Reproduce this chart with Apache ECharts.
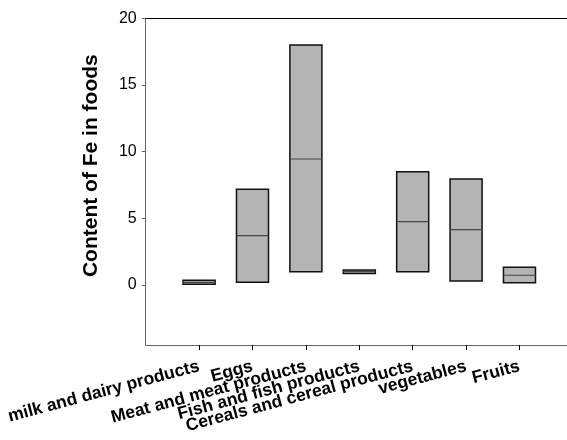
<!DOCTYPE html>
<html>
<head>
<meta charset="utf-8">
<script src="https://cdn.jsdelivr.net/npm/echarts@6/dist/echarts.min.js"></script>
<style>
  html, body { margin: 0; padding: 0; background: #ffffff; }
  #chart { width: 567px; height: 440px; }
</style>
</head>
<body>
<div id="chart"></div>
<script>
// Fe content ranges per food group: lowest, median and highest value
const categories = [
  'milk and dairy products',
  'Eggs',
  'Meat and meat products',
  'Fish and fish products',
  'Cereals and cereal products',
  'vegetables',
  'Fruits'
];
const lowValues    = [0.05, 0.2, 1.0, 0.87, 1.0, 0.3, 0.17];
const medianValues = [0.2, 3.7, 9.45, 1.0, 4.75, 4.15, 0.73];
const highValues   = [0.35, 7.18, 18.0, 1.12, 8.5, 7.95, 1.33];
const yTicks = [0, 5, 10, 15, 20];

const positions = categories.map((c, i) => i + 1);
const boxData = categories.map((c, i) => [i + 1, lowValues[i], medianValues[i], highValues[i]]);

const FONT = '"Liberation Sans", Arial, sans-serif';
const chart = echarts.init(document.getElementById('chart'), null, { renderer: 'canvas' });

chart.setOption({
  animation: false,
  backgroundColor: '#ffffff',
  grid: { left: 145.7, right: 0, top: 18.3, bottom: 95 },
  xAxis: [
    {
      type: 'value',
      min: 0,
      max: 7.89,
      position: 'bottom',
      splitLine: { show: false },
      axisLine: { show: true, onZero: false, lineStyle: { color: '#666666', width: 1 } },
      axisTick: {
        show: true, inside: false, length: 5,
        customValues: positions,
        lineStyle: { color: '#000000', width: 1 }
      },
      axisLabel: {
        show: true,
        customValues: positions,
        rotate: 15,
        margin: 21,
        fontFamily: FONT,
        fontWeight: 'bold',
        fontSize: 17.5,
        color: '#000000',
        formatter: v => categories[Math.round(v) - 1] || ''
      }
    },
    {
      type: 'value',
      min: 0,
      max: 7.89,
      position: 'top',
      splitLine: { show: false },
      axisLine: { show: true, onZero: false, lineStyle: { color: '#000000', width: 1 } },
      axisTick: { show: false },
      axisLabel: { show: false }
    }
  ],
  yAxis: {
    type: 'value',
    min: -4.5,
    max: 20,
    name: 'Content of Fe in foods',
    nameLocation: 'middle',
    nameGap: 44,
    nameTextStyle: {
      fontFamily: FONT, fontWeight: 'bold', fontSize: 21, color: '#000000',
      padding: [0, 0, 0, 32]
    },
    splitLine: { show: false },
    axisLine: { show: true, onZero: false, lineStyle: { color: '#666666', width: 1 } },
    axisTick: {
      show: true, inside: false, length: 4,
      customValues: yTicks,
      lineStyle: { color: '#666666', width: 1 }
    },
    axisLabel: {
      show: true,
      customValues: yTicks,
      margin: 9,
      fontFamily: FONT,
      fontSize: 16,
      color: '#000000'
    }
  },
  series: [{
    type: 'custom',
    xAxisIndex: 0,
    yAxisIndex: 0,
    data: boxData,
    encode: { x: 0, y: [1, 2, 3] },
    renderItem: function (params, api) {
      const x = api.value(0);
      const lo = api.coord([x, api.value(1)]);
      const md = api.coord([x, api.value(2)]);
      const hi = api.coord([x, api.value(3)]);
      const halfW = api.size([0.6, 0])[0] / 2;
      return {
        type: 'group',
        children: [
          {
            type: 'rect',
            shape: { x: lo[0] - halfW, y: hi[1], width: halfW * 2, height: lo[1] - hi[1] },
            style: { fill: '#b4b4b4', stroke: '#111111', lineWidth: 1.5 }
          },
          {
            type: 'line',
            shape: { x1: md[0] - halfW, y1: md[1], x2: md[0] + halfW, y2: md[1] },
            style: { stroke: '#444444', lineWidth: 1.2 }
          }
        ]
      };
    }
  }]
});
</script>
</body>
</html>
